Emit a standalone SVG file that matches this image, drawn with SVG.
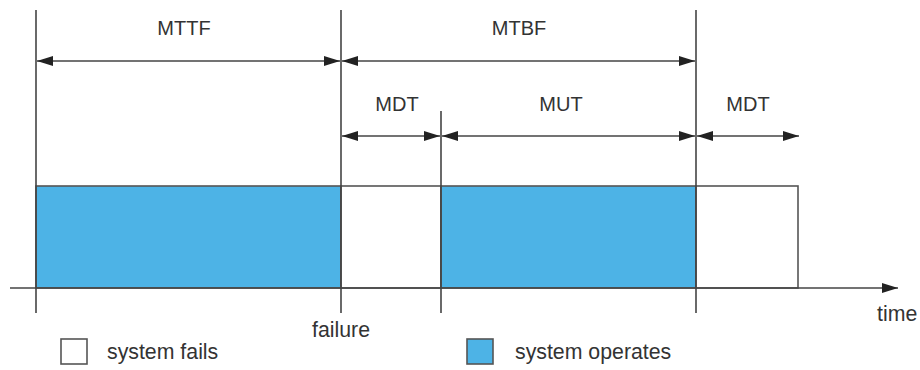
<svg xmlns="http://www.w3.org/2000/svg" width="920" height="370" viewBox="0 0 920 370">
<style>
  .ln{stroke:#444;stroke-width:1.6;fill:none}
  .box{stroke:#555;stroke-width:1.6}
  .up{fill:#4db3e6}
  .dn{fill:#fff}
  .dim{stroke:#444;stroke-width:1.6;fill:none;marker-start:url(#ah);marker-end:url(#ah)}
  .lbl{font-family:"Liberation Sans",Arial,sans-serif;font-size:20px;fill:#333;text-anchor:middle}
  .lg{font-family:"Liberation Sans",Arial,sans-serif;font-size:21.3px;fill:#333}
</style>
<defs>
  <marker id="ah" viewBox="0 0 16 10" refX="16" refY="5" markerWidth="16" markerHeight="10" markerUnits="userSpaceOnUse" orient="auto-start-reverse">
    <path d="M0,0 L16,5 L0,10 Z" fill="#222"/>
  </marker>
</defs>
<rect width="920" height="370" fill="#fff"/>
<g id="states">
  <rect id="up1" class="up box" x="36" y="186" width="305" height="102"/>
  <rect id="down1" class="dn box" x="341" y="186" width="100" height="102"/>
  <rect id="up2" class="up box" x="441" y="186" width="255" height="102"/>
  <rect id="down2" class="dn box" x="696" y="186" width="102" height="102"/>
</g>
<g id="axes">
  <line class="ln" x1="36" y1="10" x2="36" y2="313"/>
  <line class="ln" x1="341" y1="10" x2="341" y2="313"/>
  <line class="ln" x1="441" y1="111" x2="441" y2="313"/>
  <line class="ln" x1="696" y1="10" x2="696" y2="313"/>
  <line class="ln" x1="10" y1="288" x2="898" y2="288" marker-end="url(#ah)"/>
</g>
<g id="connectors">
  <line class="dim" x1="37" y1="61" x2="340" y2="61"/>
  <line class="dim" x1="342" y1="61" x2="695" y2="61"/>
  <line class="dim" x1="342" y1="136" x2="440" y2="136"/>
  <line class="dim" x1="442" y1="136" x2="695" y2="136"/>
  <line class="dim" x1="697" y1="136" x2="799" y2="136"/>
</g>
<g id="labels">
  <text class="lbl" x="184" y="35">MTTF</text>
  <text class="lbl" x="519" y="35">MTBF</text>
  <text class="lbl" x="397" y="111">MDT</text>
  <text class="lbl" x="561" y="111">MUT</text>
  <text class="lbl" x="748" y="111">MDT</text>
  <text class="lg" x="341" y="337" text-anchor="middle">failure</text>
  <text class="lg" x="877" y="321">time</text>
</g>
<g id="legend-fails">
  <rect class="dn box" x="61" y="339" width="26" height="25"/>
  <text class="lg" x="107" y="359">system fails</text>
</g>
<g id="legend-operates">
  <rect class="up box" x="467" y="339" width="26" height="25"/>
  <text class="lg" x="515" y="359">system operates</text>
</g>
</svg>
